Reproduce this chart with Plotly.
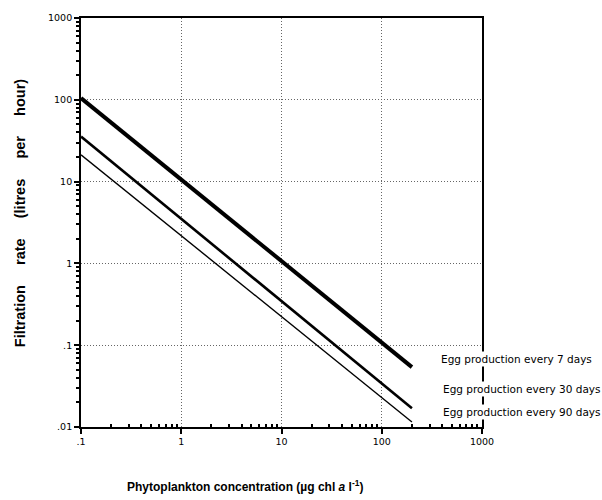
import plotly.graph_objects as go

# Data
conc = [0.1, 200]                      # Phytoplankton concentration (µg chl a l-1)
rate_7 = [105, 0.054]                  # Egg production every 7 days
rate_30 = [35.5, 0.017]                # Egg production every 30 days
rate_90 = [21.3, 0.0115]               # Egg production every 90 days
series_labels = ["Egg production every 7 days",
                 "Egg production every 30 days",
                 "Egg production every 90 days"]
x_tickvals = [0.1, 1, 10, 100, 1000]
x_ticktext = [".1", "1", "10", "100", "1000"]
y_tickvals = [0.01, 0.1, 1, 10, 100, 1000]
y_ticktext = [".01", ".1", "1", "10", "100", "1000"]

minor_x = [m * 10 ** e for e in range(-1, 3) for m in range(2, 10)]
minor_y = [m * 10 ** e for e in range(-2, 3) for m in range(2, 10)]

FONT = "Liberation Sans, Arial, sans-serif"
TICKFONT = "DejaVu Sans, sans-serif"

fig = go.Figure()
widths = [4, 2.6, 1.4]
for ys, w, name in zip([rate_7, rate_30, rate_90], widths, series_labels):
    fig.add_trace(go.Scatter(x=conc, y=ys, mode="lines", name=name,
                             line=dict(color="black", width=w), showlegend=False))

axis_common = dict(
    type="log", showline=True, linecolor="black", linewidth=1.8, mirror=True,
    showgrid=True, gridcolor="#666", griddash="1px,2px", gridwidth=1,
    ticks="outside", ticklen=5, tickwidth=1.5, tickcolor="black",
    tickfont=dict(family=TICKFONT, size=9.5, color="black"), zeroline=False,
    tickmode="array",
)

fig.update_xaxes(**axis_common, range=[-1, 3], tickvals=x_tickvals, ticktext=x_ticktext,
                 minor=dict(tickmode="array", tickvals=minor_x, ticks="inside",
                            ticklen=3, tickcolor="black", showgrid=False))
fig.update_yaxes(**axis_common, range=[-2, 3], tickvals=y_tickvals, ticktext=y_ticktext,
                 minor=dict(tickmode="array", tickvals=minor_y, ticks="outside",
                            ticklen=3, tickcolor="black", showgrid=False))

label_y = [0.166, 0.093, 0.037]
label_x = [0.893, 0.898, 0.898]
for lx, ly, txt in zip(label_x, label_y, series_labels):
    fig.add_annotation(xref="paper", yref="paper", x=lx, y=ly, text=txt,
                       showarrow=False, xanchor="left", yanchor="middle",
                       bgcolor="white", borderpad=1,
                       font=dict(family=TICKFONT, size=10.5, color="black"))

fig.add_annotation(xref="paper", yref="paper", x=0.409, y=-0.145,
                   text="<b>Phytoplankton concentration (µg chl <i>a</i> l<sup>-1</sup>)</b>",
                   showarrow=False, xanchor="center", yanchor="middle",
                   font=dict(family=FONT, size=12, color="black"))
nb = "\u00a0" * 5
fig.add_annotation(xref="paper", yref="paper", x=-0.152, y=0.523,
                   text="<b>Filtration" + nb + "rate" + nb + "(litres" + nb + "per" + nb + "hour)</b>",
                   textangle=-90, showarrow=False, xanchor="center", yanchor="middle",
                   font=dict(family=FONT, size=14.5, color="black"))

fig.update_layout(
    width=602, height=500,
    margin=dict(l=81, r=120, t=16, b=73),
    paper_bgcolor="white", plot_bgcolor="white",
)

fig.write_html("out.html", config={"displayModeBar": False},
               post_script="document.body.style.margin='0';")
